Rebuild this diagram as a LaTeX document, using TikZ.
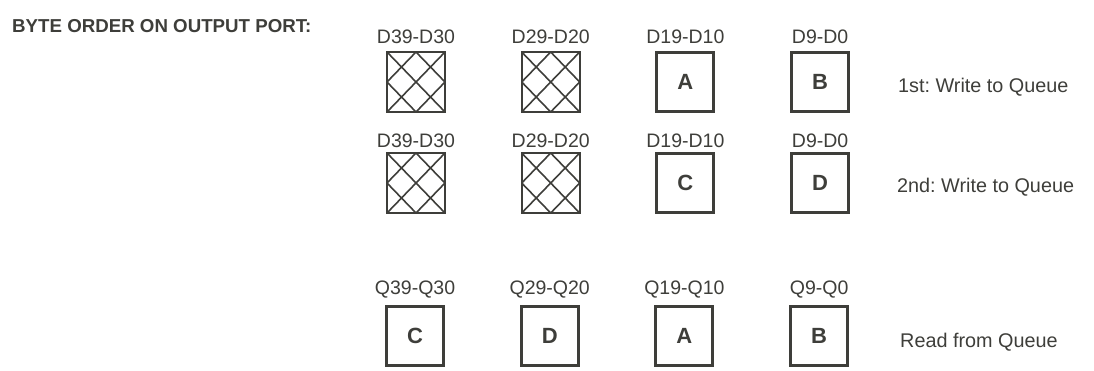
\documentclass[tikz,border=0pt]{standalone}
\usepackage{fontspec}
\setmainfont{Liberation Sans}
\usetikzlibrary{positioning}
\definecolor{inkgray}{RGB}{62,62,58}
\frenchspacing

\begin{document}
\begin{tikzpicture}[
    x=1pt, y=-1pt,
    node distance=74.7pt,
    plainbox/.style={draw=inkgray, line width=3pt, minimum width=57pt, minimum height=59pt, inner sep=0pt, font=\fontsize{22}{26}\selectfont\bfseries, text=inkgray},
    hatchbox/.style={draw=inkgray, line width=2pt, minimum width=58pt, minimum height=60pt, inner sep=0pt,
        path picture={\draw[inkgray, line width=1.6pt]
            (path picture bounding box.north west) -- (path picture bounding box.south east)
            (path picture bounding box.north east) -- (path picture bounding box.south west)
            (path picture bounding box.north) -- (path picture bounding box.east) -- (path picture bounding box.south) -- (path picture bounding box.west) -- cycle;}},
    portlbl/.style={inner sep=0pt, font=\fontsize{19.5}{22}\selectfont, text=inkgray},
    steplbl/.style={anchor=base west, inner sep=0pt, font=\fontsize{19.8}{22}\selectfont, text=inkgray}
]
\useasboundingbox (0,0) rectangle (1094,370);

\node[anchor=base west, inner sep=0pt, font=\fontsize{18.7}{22}\selectfont\bfseries, text=inkgray] (title) at (12,32) {BYTE ORDER ON OUTPUT PORT:};

% 1st write
\node[hatchbox] (w1a) at (416,82) {};
\node[hatchbox, right=of w1a] (w1b) {};
\node[plainbox, right=of w1b] (w1c) {A};
\node[plainbox, right=of w1c] (w1d) {B};
\node[portlbl, above=7pt of w1a] (lw1a) {D39-D30};
\node[portlbl, above=7pt of w1b] (lw1b) {D29-D20};
\node[portlbl, above=7pt of w1c] (lw1c) {D19-D10};
\node[portlbl, above=7pt of w1d] (lw1d) {D9-D0};
\node[steplbl] (s1) at (898,92) {1st: Write to Queue};

% 2nd write
\node[hatchbox] (w2a) at (416,183) {};
\node[hatchbox, right=of w2a] (w2b) {};
\node[plainbox, right=of w2b] (w2c) {C};
\node[plainbox, right=of w2c] (w2d) {D};
\node[portlbl, above=4pt of w2a] (lw2a) {D39-D30};
\node[portlbl, above=4pt of w2b] (lw2b) {D29-D20};
\node[portlbl, above=4pt of w2c] (lw2c) {D19-D10};
\node[portlbl, above=4pt of w2d] (lw2d) {D9-D0};
\node[steplbl] (s2) at (897,192) {2nd: Write to Queue};

% read
\node[plainbox] (rda) at (415,336) {C};
\node[plainbox, right=of rda] (rdb) {D};
\node[plainbox, right=of rdb] (rdc) {A};
\node[plainbox, right=of rdc] (rdd) {B};
\node[portlbl, above=7pt of rda] (lrda) {Q39-Q30};
\node[portlbl, above=7pt of rdb] (lrdb) {Q29-Q20};
\node[portlbl, above=7pt of rdc] (lrdc) {Q19-Q10};
\node[portlbl, above=7pt of rdd] (lrdd) {Q9-Q0};
\node[steplbl] (s3) at (900,347) {Read from Queue};
\end{tikzpicture}
\end{document}
